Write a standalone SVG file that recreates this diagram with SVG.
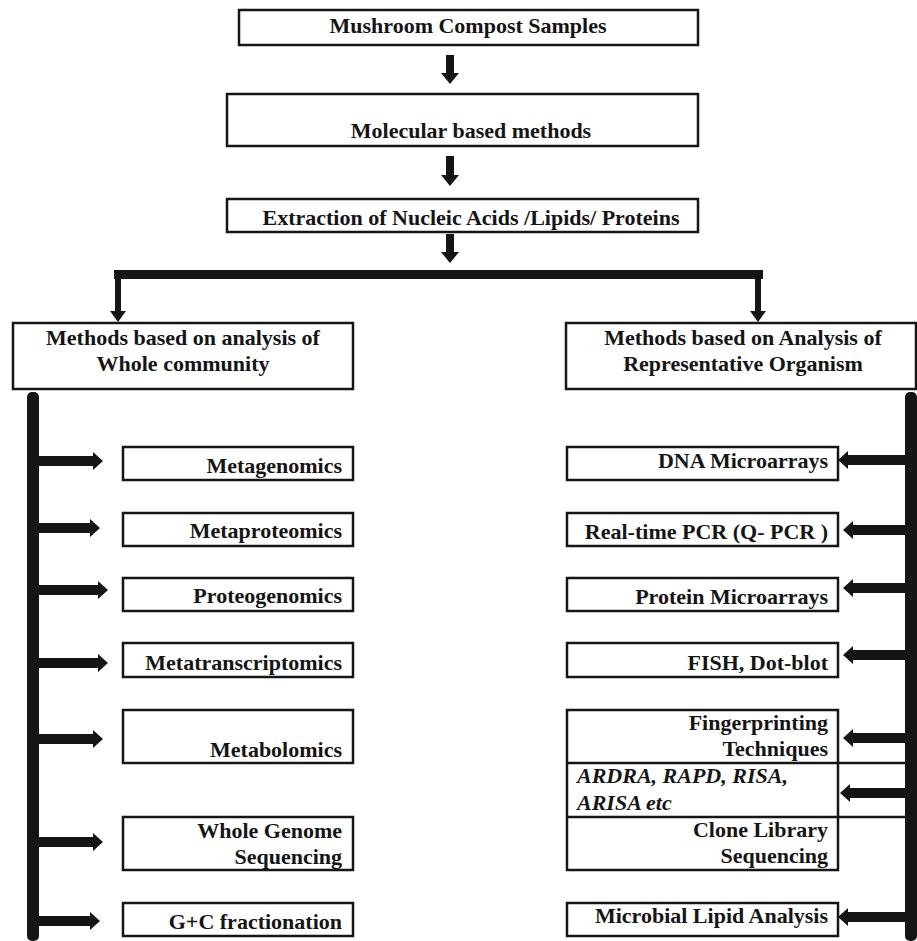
<svg xmlns="http://www.w3.org/2000/svg" width="917" height="941" viewBox="0 0 917 941">
<style>
.box{fill:#fff;stroke:#151515;stroke-width:2.5}
.ln{stroke:#151515;stroke-width:2.5;fill:none}
.t{font-weight:bold;font-size:22px;fill:#151515}
.c{text-anchor:middle}
.e{text-anchor:end}
.i{font-style:italic}
.ar{fill:#151515}
</style>
<rect width="917" height="941" fill="#fff"/>
<g id="connectors">
<polygon class="ar" points="446,55 454,55 454,73 459,73 450,84 441,73 446,73"/>
<polygon class="ar" points="446,156 454,156 454,175 459,175 450,186 441,175 446,175"/>
<polygon class="ar" points="446,234 454,234 454,252 459,252 450,263 441,252 446,252"/>
<rect class="ar" x="114" y="270" width="649" height="9"/>
<polygon class="ar" points="115,270 121,270 121,311 126,311 118,322 110,311 115,311"/>
<polygon class="ar" points="755,270 761,270 761,311 766,311 758,322 750,311 755,311"/>
<rect class="ar" x="27" y="392" width="12" height="549" rx="5"/>
<rect class="ar" x="905" y="392" width="12" height="549" rx="5"/>
<polygon class="ar" points="37,456 93,456 93,452 103,461 93,470 93,466 37,466"/>
<polygon class="ar" points="37,523 90,523 90,519 100,528 90,537 90,533 37,533"/>
<polygon class="ar" points="37,585 98,585 98,581 108,590 98,599 98,595 37,595"/>
<polygon class="ar" points="37,658 98,658 98,654 108,663 98,672 98,668 37,668"/>
<polygon class="ar" points="37,734 93,734 93,730 103,739 93,748 93,744 37,744"/>
<polygon class="ar" points="37,837 93,837 93,833 103,842 93,851 93,847 37,847"/>
<polygon class="ar" points="37,916 90,916 90,912 100,921 90,930 90,926 37,926"/>
<polygon class="ar" points="907,455 848,455 848,451 838,460 848,469 848,465 907,465"/>
<polygon class="ar" points="907,525 853,525 853,521 843,530 853,539 853,535 907,535"/>
<polygon class="ar" points="907,583 853,583 853,579 843,588 853,597 853,593 907,593"/>
<polygon class="ar" points="907,650 853,650 853,646 843,655 853,664 853,660 907,660"/>
<polygon class="ar" points="907,733 853,733 853,729 843,738 853,747 853,743 907,743"/>
<polygon class="ar" points="907,788 850,788 850,784 840,793 850,802 850,798 907,798"/>
<polygon class="ar" points="907,912 848,912 848,908 838,917 848,926 848,922 907,922"/>
</g>
<g font-family="Liberation Serif, Tinos, Times New Roman, DejaVu Serif, serif">
<g id="n-samples"><rect class="box" x="239" y="10" width="459" height="35"/><text class="t c" x="468" y="33">Mushroom Compost Samples</text></g>
<g id="n-molecular"><rect class="box" x="227" y="94" width="471" height="52"/><text class="t c" x="471" y="138">Molecular based methods</text></g>
<g id="n-extraction"><rect class="box" x="227" y="199" width="471" height="33"/><text class="t c" x="471" y="225">Extraction of Nucleic Acids /Lipids/ Proteins</text></g>
<g id="n-whole"><rect class="box" x="13" y="323" width="340" height="66"/><text class="t c" x="183" y="345">Methods based on analysis of</text><text class="t c" x="183" y="371">Whole community</text></g>
<g id="n-repr"><rect class="box" x="566" y="323" width="350" height="66"/><text class="t c" x="743" y="345">Methods based on Analysis of</text><text class="t c" x="743" y="371">Representative Organism</text></g>
<g id="n-metagenomics"><rect class="box" x="123" y="447" width="230" height="33"/><text class="t e" x="342" y="473">Metagenomics</text></g>
<g id="n-metaproteomics"><rect class="box" x="123" y="513" width="230" height="33"/><text class="t e" x="342" y="538">Metaproteomics</text></g>
<g id="n-proteogenomics"><rect class="box" x="123" y="578" width="230" height="33"/><text class="t e" x="342" y="603">Proteogenomics</text></g>
<g id="n-metatranscriptomics"><rect class="box" x="123" y="643" width="230" height="34"/><text class="t e" x="342" y="670">Metatranscriptomics</text></g>
<g id="n-metabolomics"><rect class="box" x="123" y="710" width="230" height="53"/><text class="t e" x="342" y="757">Metabolomics</text></g>
<g id="n-wgs"><rect class="box" x="123" y="817" width="230" height="53"/><text class="t e" x="342" y="838">Whole Genome</text><text class="t e" x="342" y="864">Sequencing</text></g>
<g id="n-gc"><rect class="box" x="123" y="903" width="230" height="33"/><text class="t e" x="342" y="929">G+C fractionation</text></g>
<g id="n-dna"><rect class="box" x="567" y="447" width="271" height="33"/><text class="t e" x="828" y="468">DNA Microarrays</text></g>
<g id="n-qpcr"><rect class="box" x="567" y="513" width="271" height="33"/><text class="t e" x="828" y="539">Real-time PCR (Q- PCR )</text></g>
<g id="n-protein"><rect class="box" x="567" y="578" width="271" height="33"/><text class="t e" x="828" y="604">Protein Microarrays</text></g>
<g id="n-fish"><rect class="box" x="567" y="643" width="271" height="34"/><text class="t e" x="828" y="670">FISH, Dot-blot</text></g>
<g id="n-finger"><rect class="box" x="567" y="710" width="271" height="160"/><line class="ln" x1="567" y1="763" x2="906" y2="763"/><line class="ln" x1="567" y1="817" x2="906" y2="817"/><text class="t e" x="828" y="730">Fingerprinting</text><text class="t e" x="828" y="756">Techniques</text><text class="t i" x="577" y="783">ARDRA, RAPD, RISA,</text><text class="t i" x="577" y="810">ARISA etc</text><text class="t e" x="828" y="837">Clone Library</text><text class="t e" x="828" y="863">Sequencing</text></g>
<g id="n-lipid"><rect class="box" x="567" y="903" width="271" height="33"/><text class="t e" x="828" y="923">Microbial Lipid Analysis</text></g>
</g>
</svg>
